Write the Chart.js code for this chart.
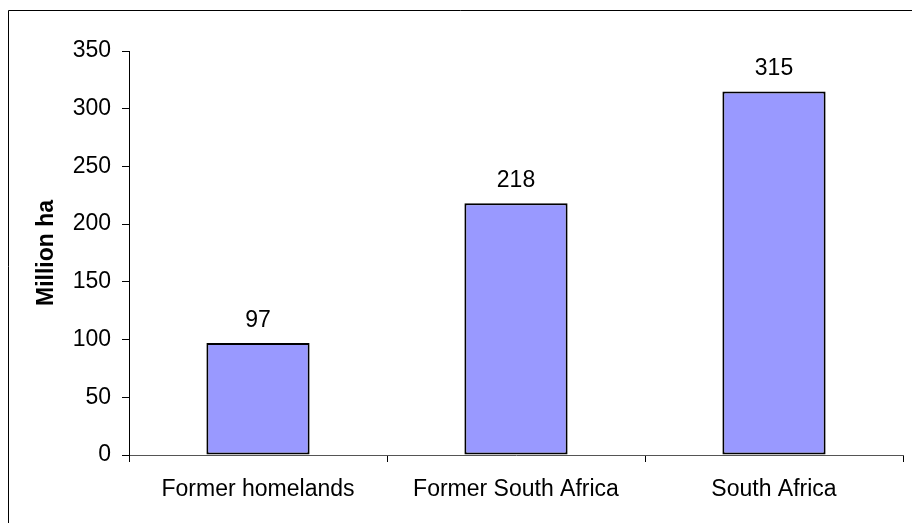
<!DOCTYPE html>
<html>
<head>
<meta charset="utf-8">
<script src="https://cdn.jsdelivr.net/npm/chart.js@4"></script>
<style>
  html, body { margin: 0; padding: 0; background: #fff; }
  #wrap { width: 912px; height: 523px; position: relative; }
</style>
</head>
<body>
<div id="wrap"><canvas id="land-chart"></canvas></div>
<script>
const categories = ["Former homelands", "Former South Africa", "South Africa"];
const areaValues = [97, 218, 315];
const yTitle = "Million ha";

const fontFamily = "'Liberation Sans', Arial, sans-serif";

// frame round the picture (left and top edges only are visible)
const framePlugin = {
    id: "frame",
    beforeDraw(chart) {
        const ctx = chart.ctx;
        ctx.save();
        ctx.strokeStyle = "#000";
        ctx.lineWidth = 1;
        ctx.beginPath();
        ctx.moveTo(8.5, 523);
        ctx.lineTo(8.5, 10.5);
        ctx.lineTo(912, 10.5);
        ctx.stroke();
        ctx.restore();
    }
};

// value labels above each bar
const valueLabels = {
    id: "valueLabels",
    afterDatasetsDraw(chart) {
        const ctx = chart.ctx;
        const meta = chart.getDatasetMeta(0);
        ctx.save();
        ctx.font = "23px " + fontFamily;
        ctx.fillStyle = "#000";
        ctx.textAlign = "center";
        ctx.textBaseline = "alphabetic";
        meta.data.forEach(function (bar, i) {
            ctx.fillText(String(areaValues[i]), bar.x, bar.y - 16);
        });
        ctx.restore();
    }
};

const chart = new Chart(document.getElementById("land-chart"), {
    type: "bar",
    data: {
        labels: categories,
        datasets: [{
            data: areaValues,
            backgroundColor: "#9999FF",
            borderColor: "#000",
            borderWidth: 2,
            borderSkipped: false,
            barPercentage: 0.4,
            categoryPercentage: 1
        }]
    },
    options: {
        responsive: true,
        maintainAspectRatio: false,
        animation: false,
        devicePixelRatio: 1,
        layout: { padding: { left: 8, top: 51, right: 9, bottom: 0 } },
        plugins: {
            legend: { display: false },
            tooltip: { enabled: false }
        },
        scales: {
            x: {
                grid: {
                    display: true,
                    drawOnChartArea: false,
                    drawTicks: true,
                    tickLength: 7,
                    offset: true,
                    color: "#000"
                },
                border: { display: true, color: "#555", width: 1 },
                ticks: {
                    color: "#000",
                    font: { family: fontFamily, size: 23 },
                    padding: 14,
                    maxRotation: 0,
                    autoSkip: false
                },
                afterFit(scale) { scale.height = 68; }
            },
            y: {
                min: 0,
                max: 350,
                grid: {
                    display: true,
                    drawOnChartArea: false,
                    drawTicks: true,
                    tickLength: 7,
                    color: "#000"
                },
                border: { display: true, color: "#000", width: 1 },
                ticks: {
                    stepSize: 50,
                    color: "#000",
                    font: { family: fontFamily, size: 23 },
                    padding: 11
                },
                title: {
                    display: true,
                    text: yTitle,
                    color: "#000",
                    font: { family: fontFamily, size: 23, weight: "bold" },
                    padding: { top: 25, bottom: 0 }
                },
                afterFit(scale) { scale.width = 121; }
            }
        }
    },
    plugins: [framePlugin, valueLabels]
});
</script>
</body>
</html>
